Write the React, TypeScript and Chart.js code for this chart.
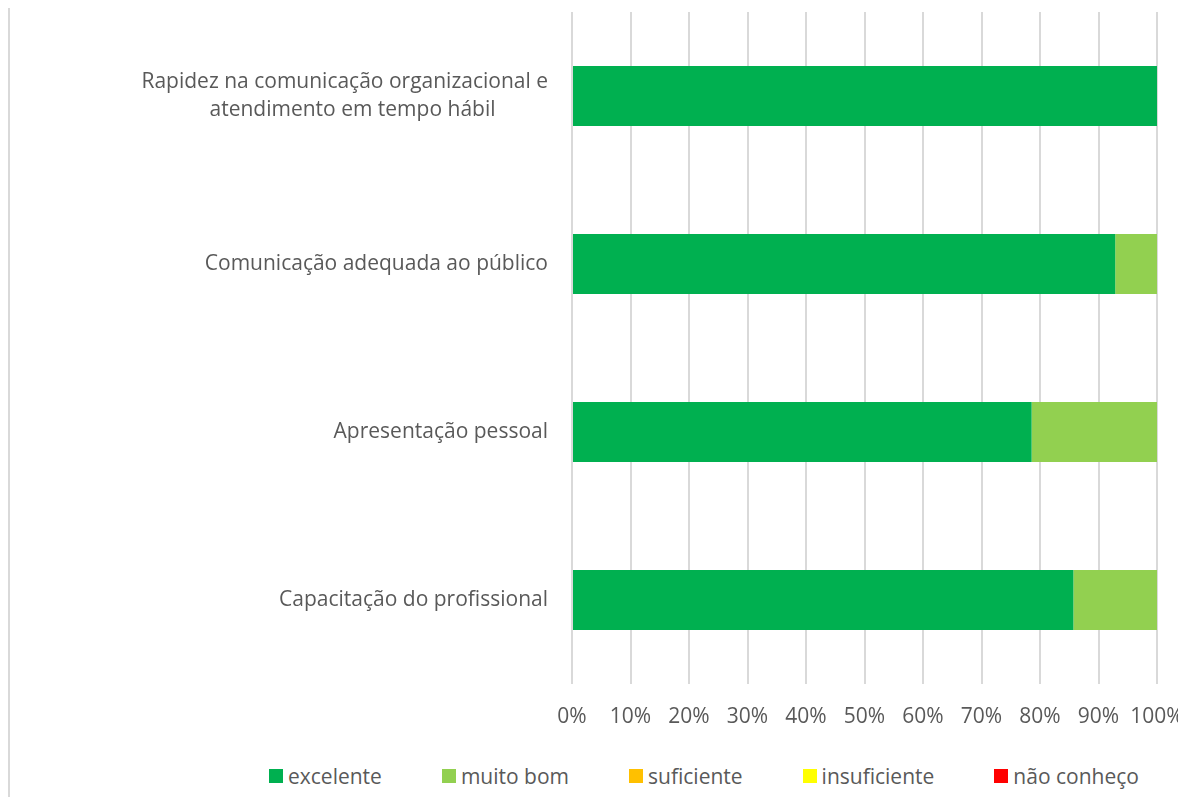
import React, { useEffect, useRef } from "react";
import { Chart, registerables } from "chart.js";

Chart.register(...registerables);

const categories: (string | string[])[] = [
  ["Rapidez na comunicação organizacional e", "atendimento em tempo hábil\u2002\u2002\u2002\u2002\u2002"],
  "Comunicação adequada ao público",
  "Apresentação pessoal",
  "Capacitação do profissional",
];

const seriesNames = ["excelente", "muito bom", "suficiente", "insuficiente", "não conheço"];
const seriesColors = ["#00B050", "#92D050", "#FFC000", "#FFFF00", "#FF0000"];

const excelente = [100, 92.86, 78.57, 85.71];
const muitoBom = [0, 7.14, 21.43, 14.29];
const suficiente = [0, 0, 0, 0];
const insuficiente = [0, 0, 0, 0];
const naoConheco = [0, 0, 0, 0];

const seriesValues = [excelente, muitoBom, suficiente, insuficiente, naoConheco];
const xTicks = [0, 10, 20, 30, 40, 50, 60, 70, 80, 90, 100];

const FONT = "'Open Sans', Lato, sans-serif";
const TEXT = "#595959";

export default function App() {
  const ref = useRef<HTMLCanvasElement>(null);

  useEffect(() => {
    if (!ref.current) return;
    const chart = new Chart(ref.current, {
      type: "bar",
      data: {
        labels: categories,
        datasets: seriesNames.map((name, i) => ({
          label: name,
          data: seriesValues[i],
          backgroundColor: seriesColors[i],
          borderWidth: 0,
          barPercentage: 0.357,
          categoryPercentage: 1,
        })),
      },
      options: {
        indexAxis: "y",
        animation: false,
        responsive: false,
        maintainAspectRatio: false,
        layout: { padding: { top: 12, right: 29, bottom: 0, left: 0 } },
        plugins: {
          legend: { display: false },
          tooltip: { enabled: false },
        },
        scales: {
          x: {
            stacked: true,
            min: 0,
            max: 100,
            afterBuildTicks: (scale: any) => {
              scale.ticks = xTicks.map((v) => ({ value: v }));
            },
            afterFit: (scale: any) => {
              scale.paddingLeft = 0;
              scale.paddingRight = 0;
              scale.height = 63;
            },
            grid: { color: "#D9D9D9", lineWidth: 2, drawTicks: false },
            border: { display: false },
            ticks: {
              padding: 20,
              maxRotation: 0,
              minRotation: 0,
              autoSkip: false,
              color: TEXT,
              font: { family: FONT, size: 21 },
              callback: (v: any) => `${v}%`,
            },
          },
          y: {
            stacked: true,
            grid: { display: false, drawTicks: false },
            border: { display: false },
            afterFit: (scale: any) => {
              scale.width = 562;
              scale.paddingTop = 0;
              scale.paddingBottom = 0;
            },
            ticks: {
              padding: 24,
              color: TEXT,
              font: { family: FONT, size: 21, lineHeight: 1.33 },
            },
          },
        },
      },
    });
    return () => chart.destroy();
  }, []);

  return (
    <div
      style={{
        position: "relative",
        margin: "-8px -8px -8px 0",
        height: 805,
        borderLeft: "2px solid #D9D9D9",
        background: "#fff",
      }}
    >
      <canvas ref={ref} width={1176} height={747} style={{ display: "block" }} />
      <div
        style={{
          position: "absolute",
          left: 259,
          top: 766,
          height: 20,
          display: "flex",
          alignItems: "center",
          fontFamily: FONT,
          fontSize: 21,
          color: TEXT,
          whiteSpace: "nowrap",
        }}
      >
        {seriesNames.map((name, i) => (
          <div key={name} style={{ display: "flex", alignItems: "center", marginRight: 60 }}>
            <span style={{ width: 14, height: 14, background: seriesColors[i], marginRight: 5, display: "inline-block" }} />
            <span>{name}</span>
          </div>
        ))}
      </div>
    </div>
  );
}
